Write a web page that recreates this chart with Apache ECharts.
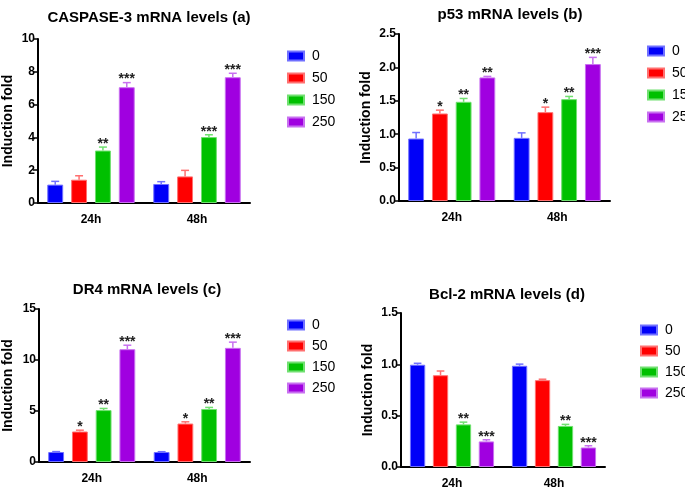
<!DOCTYPE html>
<html><head><meta charset="utf-8">
<script src="https://cdn.jsdelivr.net/npm/echarts@6/dist/echarts.min.js"></script>
<style>html,body{margin:0;padding:0;background:#fff}#c{width:685px;height:490px}</style>
</head><body><div id="c"></div><script>
// ---- data ----
const timePoints = ['24h', '48h'];
const doses = ['0', '50', '150', '250'];

// rows: dose (0, 50, 150, 250); columns: 24h, 48h
const caspaseMean = [[1.12, 1.16], [1.42, 1.62], [3.20, 4.02], [7.06, 7.67]];
const caspaseSem  = [[0.20, 0.14], [0.24, 0.37], [0.21, 0.14], [0.28, 0.24]];
const caspaseSig  = [['', ''], ['', ''], ['**', '***'], ['***', '***']];

const p53Mean = [[0.935, 0.945], [1.31, 1.33], [1.485, 1.525], [1.85, 2.05]];
const p53Sem  = [[0.09, 0.075], [0.05, 0.075], [0.05, 0.04], [0.015, 0.10]];
const p53Sig  = [['', ''], ['*', '*'], ['**', '**'], ['**', '***']];

const dr4Mean = [[0.98, 0.98], [2.99, 3.77], [5.09, 5.20], [11.06, 11.19]];
const dr4Sem  = [[0.04, 0.03], [0.13, 0.17], [0.16, 0.15], [0.39, 0.56]];
const dr4Sig  = [['', ''], ['*', '*'], ['**', '**'], ['***', '***']];

const bcl2Mean = [[0.996, 0.986], [0.894, 0.846], [0.415, 0.40], [0.249, 0.19]];
const bcl2Sem  = [[0.014, 0.016], [0.041, 0.009], [0.022, 0.015], [0.016, 0.017]];
const bcl2Sig  = [['', ''], ['', ''], ['**', '**'], ['***', '***']];

const yTicksA = [0, 10, 2];
const yTicksB = [0, 2.5, 0.5];
const yTicksC = [0, 15, 5];
const yTicksD = [0, 1.5, 0.5];

// ---- styles / layout ----
const colors = ['#0000f8', '#ff0000', '#00c000', '#a000e0'];
const borders = ['#7070ff', '#ff7070', '#70e070', '#c870f0'];
const FONT = '"Liberation Sans", Arial, sans-serif';

const panels = [
  { title: 'CASPASE-3 mRNA levels (a)', mean: caspaseMean, sem: caspaseSem, sig: caspaseSig, ticks: yTicksA, dec: 0,
    grid: { left: 37, top: 39, width: 213, height: 164 }, tx: 144, ty: 13, lx: 282, ly: 44, gap: 23, ig: 8 },
  { title: 'p53 mRNA levels (b)', mean: p53Mean, sem: p53Sem, sig: p53Sig, ticks: yTicksB, dec: 1,
    grid: { left: 399, top: 34, width: 211, height: 167 }, tx: 505, ty: 10, lx: 642, ly: 39, gap: 26, ig: 8 },
  { title: 'DR4 mRNA levels (c)', mean: dr4Mean, sem: dr4Sem, sig: dr4Sig, ticks: yTicksC, dec: 0,
    grid: { left: 37, top: 309, width: 213, height: 153 }, tx: 142, ty: 285, lx: 282, ly: 313, gap: 24, ig: 7 },
  { title: 'Bcl-2 mRNA levels (d)', mean: bcl2Mean, sem: bcl2Sem, sig: bcl2Sig, ticks: yTicksD, dec: 1,
    grid: { left: 401, top: 313, width: 204, height: 157 }, tx: 502, ty: 290, lx: 635, ly: 318, gap: 26, ig: 7 }
];

const BAR_W = 0.15, BAR_GAP = 0.5;
const offsets = doses.map((d, i) => {
  const total = 4 * BAR_W + 3 * BAR_W * BAR_GAP;
  return -total / 2 + BAR_W / 2 + i * BAR_W * (1 + BAR_GAP);
});

const option = {
  backgroundColor: '#fff',
  animation: false,
  title: [], grid: [], xAxis: [], yAxis: [], legend: [], series: []
};

panels.forEach((p, k) => {
  option.title.push({
    text: p.title, left: p.tx, top: p.ty, textAlign: 'center', textVerticalAlign: 'middle',
    textStyle: { fontFamily: FONT, fontWeight: 'bold', fontSize: 15, color: '#000' }
  });
  option.grid.push(Object.assign({ containLabel: false }, p.grid));
  option.xAxis.push({
    type: 'category', gridIndex: k, data: timePoints,
    axisLine: { lineStyle: { color: '#000', width: 2 } },
    axisTick: { alignWithLabel: true, length: 5, lineStyle: { color: '#000', width: 1.5 } },
    axisLabel: { color: '#000', fontFamily: FONT, fontWeight: 'bold', fontSize: 12, margin: 11 }
  });
  option.yAxis.push({
    type: 'value', gridIndex: k, min: p.ticks[0], max: p.ticks[1], interval: p.ticks[2],
    name: 'Induction fold', nameLocation: 'middle', nameGap: p.gap, nameRotate: 90,
    nameTextStyle: { fontFamily: FONT, fontWeight: 'bold', fontSize: 14, color: '#000' },
    splitLine: { show: false },
    axisLine: { show: true, lineStyle: { color: '#000', width: 2 } },
    axisTick: { show: true, length: 5, lineStyle: { color: '#000', width: 1.5 } },
    axisLabel: { color: '#000', fontFamily: FONT, fontWeight: 'bold', fontSize: 12, margin: 3,
      formatter: v => v.toFixed(p.dec) }
  });
  option.legend.push({
    orient: 'vertical', left: p.lx, top: p.ly, data: doses, icon: 'rect',
    itemWidth: 16, itemHeight: 9, itemGap: p.ig, selectedMode: false,
    textStyle: { fontFamily: FONT, fontSize: 14, color: '#000', padding: [0, 0, 0, 3] }
  });
  doses.forEach((d, i) => {
    option.series.push({
      type: 'bar', name: d, xAxisIndex: k, yAxisIndex: k,
      data: p.mean[i],
      barWidth: (BAR_W * 100) + '%', barGap: (BAR_GAP * 100) + '%',
      itemStyle: { color: colors[i], borderColor: borders[i], borderWidth: 1 },
      z: 2
    });
  });
  doses.forEach((d, i) => {
    const sigRow = p.sig[i];
    option.series.push({
      type: 'custom', name: d, xAxisIndex: k, yAxisIndex: k, z: 3,
      encode: { x: 0, y: 1 },
      data: timePoints.map((t, j) => [j, p.mean[i][j], p.sem[i][j]]),
      renderItem: (params, api) => {
        const j = api.value(0), m = api.value(1), s = api.value(2);
        const base = api.coord([j, m]);
        const top = api.coord([j, m + s]);
        const band = api.size([1, 0])[0];
        const x = base[0] + offsets[i] * band;
        const cap = band * BAR_W * 0.25;
        const st = { stroke: borders[i], lineWidth: 1.5 };
        const children = [
          { type: 'line', shape: { x1: x, y1: base[1], x2: x, y2: top[1] }, style: st },
          { type: 'line', shape: { x1: x - cap, y1: top[1], x2: x + cap, y2: top[1] }, style: st }
        ];
        const sg = sigRow[j];
        if (sg) children.push({
          type: 'text', style: { text: sg, x: x, y: top[1] + 4, align: 'center', verticalAlign: 'bottom',
            font: 'bold 14px "Liberation Sans", Arial, sans-serif', fill: '#222' }
        });
        return { type: 'group', children: children };
      }
    });
  });
});

const chart = echarts.init(document.getElementById('c'), null, { renderer: 'canvas' });
chart.setOption(option);
</script></body></html>
